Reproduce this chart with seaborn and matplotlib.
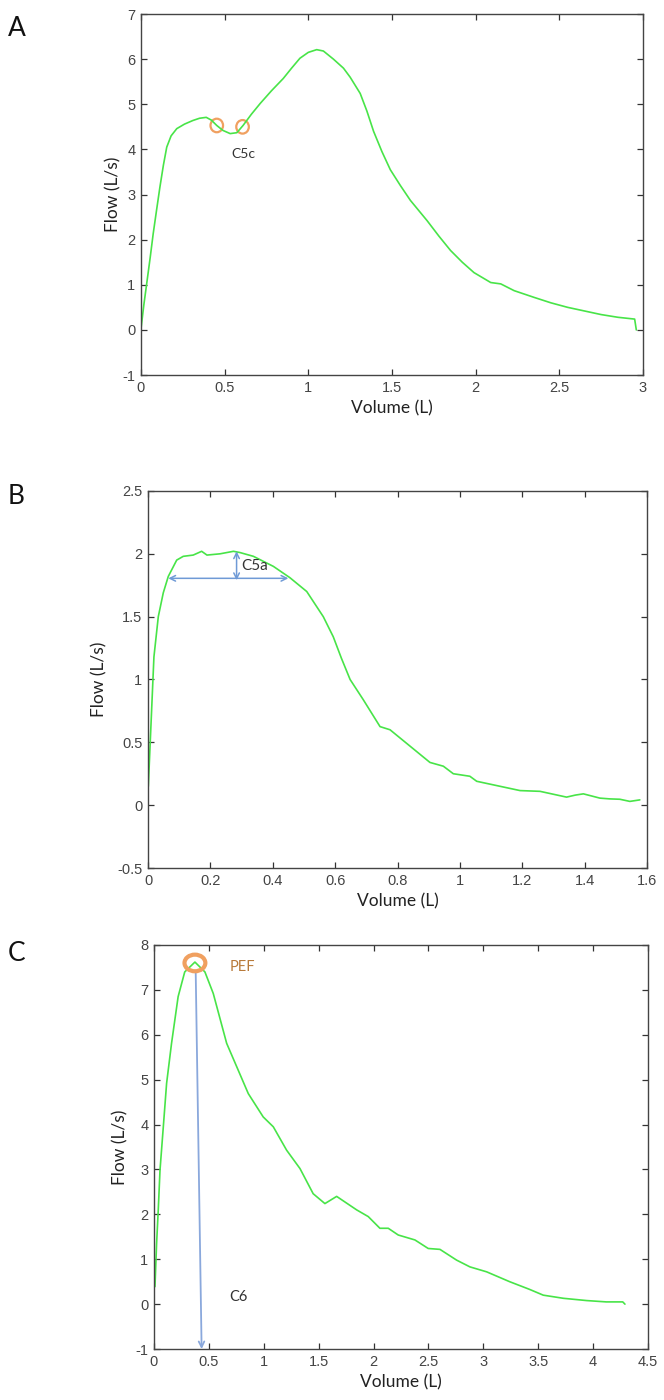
import numpy as np
import pandas as pd
import seaborn as sns
import matplotlib.pyplot as plt
from matplotlib.patches import Ellipse

sns.set_style("ticks")
plt.rcParams["font.family"] = ["Liberation Sans", "DejaVu Sans"]

# panel A: flow-volume curve with two small notches (C5c)
a_vol = [0.0, 0.017, 0.034, 0.055, 0.073, 0.093, 0.113, 0.134, 0.154, 0.18, 0.214, 0.26,
         0.31, 0.35, 0.39, 0.42, 0.453, 0.49, 0.533, 0.573, 0.61, 0.66, 0.713, 0.78,
         0.85, 0.9, 0.95, 1.0, 1.05, 1.09, 1.15, 1.21, 1.25, 1.31, 1.35, 1.39, 1.44,
         1.49, 1.55, 1.61, 1.71, 1.78, 1.85, 1.92, 1.99, 2.09, 2.15, 2.23, 2.35, 2.45,
         2.55, 2.65, 2.75, 2.85, 2.95, 2.96]
a_flow = [0.02, 0.55, 1.02, 1.6, 2.13, 2.65, 3.16, 3.65, 4.05, 4.3, 4.46, 4.56,
          4.64, 4.69, 4.71, 4.65, 4.53, 4.42, 4.35, 4.37, 4.53, 4.78, 5.02, 5.3,
          5.57, 5.8, 6.02, 6.15, 6.21, 6.18, 6.0, 5.8, 5.6, 5.24, 4.85, 4.4, 3.95,
          3.55, 3.2, 2.87, 2.42, 2.08, 1.76, 1.5, 1.27, 1.05, 1.02, 0.87, 0.72, 0.6,
          0.5, 0.42, 0.34, 0.28, 0.24, 0.0]
a_marks_x = [0.453, 0.607]
a_marks_y = [4.53, 4.50]

# panel B: plateau curve (C5a)
b_vol = [0.001, 0.012, 0.019, 0.033, 0.049, 0.065, 0.092, 0.113, 0.145, 0.172, 0.189,
         0.231, 0.274, 0.295, 0.338, 0.402, 0.455, 0.509, 0.562, 0.594, 0.62, 0.648, 0.69,
         0.744, 0.776, 0.84, 0.904, 0.947, 0.979, 1.032, 1.054, 1.129, 1.193, 1.257,
         1.342, 1.37, 1.396, 1.449, 1.48, 1.513, 1.545, 1.577]
b_flow = [0.15, 0.78, 1.18, 1.5, 1.69, 1.82, 1.95, 1.98, 1.99, 2.02, 1.99,
          2.0, 2.02, 2.01, 1.98, 1.9, 1.81, 1.7, 1.5, 1.34, 1.17, 1.0, 0.84,
          0.625, 0.6, 0.47, 0.34, 0.31, 0.25, 0.23, 0.19, 0.15, 0.116, 0.11,
          0.064, 0.08, 0.09, 0.056, 0.05, 0.047, 0.03, 0.042]

# panel C: sharp peak (PEF, C6)
c_vol = [0.009, 0.024, 0.039, 0.055, 0.085, 0.115, 0.16, 0.22, 0.28, 0.373, 0.464, 0.54,
         0.662, 0.859, 0.995, 1.087, 1.208, 1.33, 1.45, 1.557, 1.664, 1.846, 1.952, 2.058,
         2.134, 2.225, 2.377, 2.498, 2.605, 2.757, 2.878, 3.03, 3.24, 3.42, 3.546, 3.73,
         3.94, 4.12, 4.27, 4.29]
c_flow = [0.39, 1.36, 2.1, 2.99, 3.95, 4.92, 5.81, 6.85, 7.4, 7.62, 7.4, 6.92,
          5.81, 4.69, 4.17, 3.95, 3.43, 3.02, 2.46, 2.24, 2.4, 2.1, 1.95, 1.69,
          1.69, 1.54, 1.43, 1.24, 1.22, 0.98, 0.83, 0.72, 0.5, 0.33, 0.2, 0.13,
          0.08, 0.05, 0.05, 0.0]

green = "#48e448"
orange = "#f0a060"
blue = "#6f9ad6"
label_font = ["Lato", "DejaVu Sans"]

fig = plt.figure(figsize=(6.64, 14), dpi=100)
axA = fig.add_axes([0.2123, 0.7321, 0.7561, 0.2579])
axB = fig.add_axes([0.2229, 0.38, 0.7515, 0.2693])
axC = fig.add_axes([0.2319, 0.0364, 0.744, 0.2886])


def style(ax, xlim, ylim, xticks, yticks, xtl, ytl, ypad):
    ax.set_xlim(xlim)
    ax.set_ylim(ylim)
    ax.set_xticks(xticks)
    ax.set_yticks(yticks)
    ax.set_xticklabels(xtl)
    ax.set_yticklabels(ytl)
    ax.tick_params(direction="in", top=True, right=True, length=4, width=0.9,
                   labelsize=10.5, colors="#333333", labelcolor="#444444", pad=4)
    for s in ax.spines.values():
        s.set_visible(True)
        s.set_color("#444444")
        s.set_linewidth(1.0)
    ax.set_xlabel("Volume (L)", fontsize=12.5, family=label_font, color="#222222", labelpad=4)
    ax.set_ylabel("Flow (L/s)", fontsize=12.5, family=label_font, color="#222222", labelpad=ypad)


# A
sns.lineplot(ax=axA, x=a_vol, y=a_flow, sort=False, estimator=None, color=green, lw=1.2)
style(axA, (0, 3), (-1, 7), [0, 0.5, 1, 1.5, 2, 2.5, 3], range(-1, 8),
      ["0", "0.5", "1", "1.5", "2", "2.5", "3"], [str(v) for v in range(-1, 8)], 1)
for mx, my in zip(a_marks_x, a_marks_y):
    axA.add_patch(Ellipse((mx, my), 0.075, 0.3, fill=False, ec=orange, lw=1.6))
axA.text(0.54, 3.8, "C5c", fontsize=10, family=label_font, color="#333333")

# B
sns.lineplot(ax=axB, x=b_vol, y=b_flow, sort=False, estimator=None, color=green, lw=1.2)
style(axB, (0, 1.6), (-0.5, 2.5), np.arange(0, 1.61, 0.2), np.arange(-0.5, 2.51, 0.5),
      ["0", "0.2", "0.4", "0.6", "0.8", "1", "1.2", "1.4", "1.6"],
      ["-0.5", "0", "0.5", "1", "1.5", "2", "2.5"], 7)
axB.annotate("", xy=(0.065, 1.805), xytext=(0.45, 1.805),
             arrowprops=dict(arrowstyle="<->", color=blue, lw=1.1, shrinkA=0, shrinkB=0))
axB.annotate("", xy=(0.284, 2.02), xytext=(0.284, 1.79),
             arrowprops=dict(arrowstyle="<->", color=blue, lw=1.1, shrinkA=0, shrinkB=0))
axB.text(0.3, 1.9, "C5a", fontsize=11, family=label_font, color="#333333", va="center")

# C
sns.lineplot(ax=axC, x=c_vol, y=c_flow, sort=False, estimator=None, color=green, lw=1.2)
style(axC, (0, 4.5), (-1, 8), np.arange(0, 4.51, 0.5), range(-1, 9),
      ["0", "0.5", "1", "1.5", "2", "2.5", "3", "3.5", "4", "4.5"],
      [str(v) for v in range(-1, 9)], 5)
axC.annotate("", xy=(0.434, -1), xytext=(0.38, 7.4),
             arrowprops=dict(arrowstyle="->", color="#8aa8dc", lw=1.3, shrinkA=0, shrinkB=0))
axC.add_patch(Ellipse((0.373, 7.6), 0.19, 0.37, fill=False, ec=orange, lw=3, zorder=5))
axC.text(0.69, 7.5, "PEF", fontsize=10.5, family=label_font, color="#b87a3a", va="center")
axC.text(0.69, 0.15, "C6", fontsize=10.5, family=label_font, color="#333333", va="center")

# panel letters
for lab, yy in [("A", 0.98), ("B", 0.645), ("C", 0.319)]:
    fig.text(0.012, yy, lab, fontsize=19, family=label_font, va="center", color="#111111")

fig.savefig("out.png", dpi=100)
